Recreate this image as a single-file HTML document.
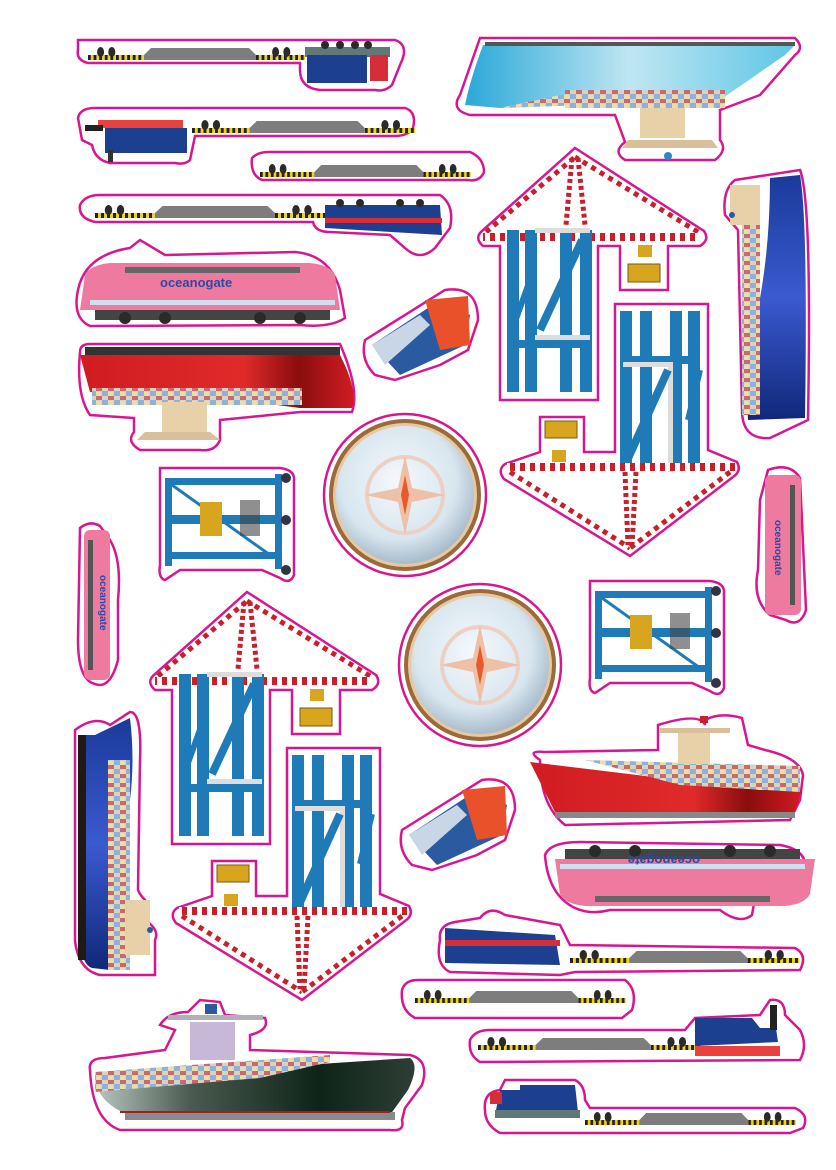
<!DOCTYPE html>
<html><head><meta charset="utf-8"><style>
html,body{margin:0;padding:0;background:#fff;width:836px;height:1170px;overflow:hidden}
svg{display:block}
.o{fill:#fff;stroke:#d8168f;stroke-width:2.5}
.deck{fill:#7d7d7d}
.base{fill:#f2d21b}
.wh{fill:#2a2a2a}
.leg{fill:#1f7bb8}
.t{font-family:"Liberation Sans",sans-serif;font-weight:bold;fill:#2b4aa0}
</style></head><body>
<svg width="836" height="1170" viewBox="0 0 836 1170" xmlns="http://www.w3.org/2000/svg">
<defs>
<pattern id="st" width="10" height="10" patternUnits="userSpaceOnUse"><rect width="10" height="10" fill="#fff"/><rect width="5" height="10" fill="#c8202a"/></pattern>
<pattern id="yb" width="8" height="4" patternUnits="userSpaceOnUse"><rect width="8" height="4" fill="#f2d21b"/><rect width="4" height="4" fill="#222"/></pattern>
<pattern id="ct" width="12" height="9" patternUnits="userSpaceOnUse"><rect width="12" height="9" fill="#d9d2c4"/><rect width="6" height="4" fill="#c86a6a"/><rect x="6" y="4" width="6" height="5" fill="#8fb0d8"/><rect x="0" y="5" width="5" height="4" fill="#e8e0a8"/></pattern>
<linearGradient id="cy" x1="0" y1="0" x2="1" y2="0"><stop offset="0" stop-color="#2aa8d8"/><stop offset=".5" stop-color="#bfe6f2"/><stop offset="1" stop-color="#5ec6e6"/></linearGradient>
<linearGradient id="rd" x1="0" y1="0" x2="1" y2="0"><stop offset="0" stop-color="#d01c22"/><stop offset=".6" stop-color="#e02a2a"/><stop offset=".8" stop-color="#8a0d0d"/><stop offset="1" stop-color="#d01c22"/></linearGradient>
<linearGradient id="bl" x1="0" y1="0" x2="0" y2="1"><stop offset="0" stop-color="#1a3a9a"/><stop offset=".5" stop-color="#3a5ad0"/><stop offset="1" stop-color="#10287a"/></linearGradient>
<linearGradient id="gr" x1="0" y1="0" x2="1" y2="0"><stop offset="0" stop-color="#b8c8c0"/><stop offset=".3" stop-color="#4a5a50"/><stop offset=".7" stop-color="#0e2418"/><stop offset="1" stop-color="#2e3e36"/></linearGradient>
<radialGradient id="cp" cx=".45" cy=".4" r=".6"><stop offset="0" stop-color="#f4f8fb"/><stop offset=".7" stop-color="#d8e6ef"/><stop offset="1" stop-color="#a8bccc"/></radialGradient>
<g id="crane">
 <path class="o" d="M575,148 L704,231 Q710,240 700,246 L668,246 L668,290 L620,290 L620,246 L598,246 L598,400 L500,400 L500,246 L483,246 Q474,238 482,231 Z"/>
 <path class="o" d="M615,304 L708,304 L708,450 L737,462 Q742,471 733,477 L630,556 L504,479 Q497,470 505,464 L540,452 L540,417 L584,417 L584,452 L615,452 Z"/>
 <line x1="486" y1="232" x2="575" y2="157" stroke="#fff" stroke-width="5"/><line x1="486" y1="232" x2="575" y2="157" stroke="#c8202a" stroke-width="5" stroke-dasharray="5 5"/>
 <line x1="698" y1="232" x2="575" y2="157" stroke="#fff" stroke-width="5"/><line x1="698" y1="232" x2="575" y2="157" stroke="#c8202a" stroke-width="5" stroke-dasharray="5 5"/>
 <path d="M572,158 L566,225 M578,158 L585,225" stroke="#c8202a" stroke-width="5" stroke-dasharray="4 3"/>
 <rect x="483" y="233" width="217" height="8" fill="url(#st)"/>
 <rect x="507" y="230" width="12" height="162" class="leg"/><rect x="525" y="230" width="12" height="162" class="leg"/>
 <rect x="560" y="230" width="12" height="162" class="leg"/><rect x="580" y="230" width="12" height="162" class="leg"/>
 <rect x="535" y="228" width="55" height="5" fill="#ddd"/><rect x="535" y="335" width="55" height="5" fill="#ddd"/>
 <rect x="507" y="340" width="85" height="8" class="leg"/>
 <line x1="540" y1="330" x2="582" y2="240" stroke="#1f7bb8" stroke-width="8"/><line x1="512" y1="330" x2="530" y2="280" stroke="#1f7bb8" stroke-width="6"/>
 <rect x="628" y="264" width="32" height="18" fill="#d7a51e" stroke="#7a5a10"/><rect x="638" y="245" width="14" height="12" fill="#d7a51e"/>
 <rect x="620" y="311" width="12" height="160" class="leg"/><rect x="640" y="311" width="12" height="160" class="leg"/>
 <rect x="670" y="311" width="12" height="160" class="leg"/><rect x="688" y="311" width="12" height="160" class="leg"/>
 <rect x="620" y="356" width="80" height="8" class="leg"/><rect x="623" y="362" width="50" height="5" fill="#ddd"/><rect x="668" y="362" width="5" height="110" fill="#ddd"/>
 <line x1="625" y1="465" x2="668" y2="370" stroke="#1f7bb8" stroke-width="8"/><line x1="688" y1="420" x2="700" y2="370" stroke="#1f7bb8" stroke-width="6"/>
 <rect x="507" y="463" width="228" height="8" fill="url(#st)"/>
 <line x1="510" y1="472" x2="630" y2="548" stroke="#fff" stroke-width="5"/><line x1="510" y1="472" x2="630" y2="548" stroke="#c8202a" stroke-width="5" stroke-dasharray="5 5"/>
 <line x1="730" y1="472" x2="630" y2="548" stroke="#fff" stroke-width="5"/><line x1="730" y1="472" x2="630" y2="548" stroke="#c8202a" stroke-width="5" stroke-dasharray="5 5"/>
 <path d="M625,472 L628,545 M636,472 L632,545" stroke="#c8202a" stroke-width="5" stroke-dasharray="4 3"/>
 <rect x="545" y="421" width="32" height="17" fill="#d7a51e" stroke="#7a5a10"/><rect x="552" y="450" width="14" height="12" fill="#d7a51e"/>
</g>
<g id="gantry">
 <path class="o" d="M160,468 L280,468 Q295,470 294,480 L294,575 Q290,585 280,578 L262,570 L180,570 L165,580 Q158,578 160,565 Z"/>
 <rect x="165" y="478" width="7" height="88" class="leg"/><rect x="275" y="474" width="7" height="95" class="leg"/>
 <rect x="165" y="478" width="117" height="7" class="leg"/><rect x="165" y="515" width="117" height="9" class="leg"/><rect x="165" y="552" width="117" height="7" class="leg"/>
 <line x1="172" y1="485" x2="270" y2="555" stroke="#1f7bb8" stroke-width="3"/>
 <rect x="200" y="502" width="22" height="34" fill="#d7a51e"/><rect x="240" y="500" width="20" height="36" fill="#444" opacity=".6"/>
 <circle cx="286" cy="478" r="5" fill="#334"/><circle cx="286" cy="520" r="5" fill="#334"/><circle cx="286" cy="570" r="5" fill="#334"/>
</g>
<g id="comp">
 <circle cx="405" cy="495" r="81" class="o"/>
 <circle cx="405" cy="495" r="76" fill="#9a6a3a"/>
 <circle cx="405" cy="495" r="72" fill="#e8c8a0"/>
 <circle cx="405" cy="495" r="69" fill="url(#cp)"/>
 <circle cx="405" cy="495" r="38" fill="none" stroke="#ecd0c4" stroke-width="4"/>
 <polygon points="405,455 412,488 445,495 412,502 405,535 398,502 365,495 398,488" fill="#efc0a8"/>
 <polygon points="405,475 409,495 405,515 401,495" fill="#e85a2a"/>
</g>
<g id="flat">
 <rect x="0" y="0" width="80" height="5" fill="url(#yb)"/><polygon points="80,0 90,-7 230,-7 240,0 240,5 80,5" class="deck"/>
 <rect x="240" y="0" width="70" height="5" fill="url(#yb)"/>
 <circle cx="18" cy="-3" r="5" class="wh"/><circle cx="34" cy="-3" r="5" class="wh"/><circle cx="268" cy="-3" r="5" class="wh"/><circle cx="284" cy="-3" r="5" class="wh"/>
</g>
<g id="ploco">
 <path d="M0,10 Q5,0 25,-2 L225,-2 Q245,0 250,10 L255,45 L-5,45 Z" fill="#ef7aa0"/>
 <rect x="40" y="2" width="175" height="6" fill="#666"/>
 <rect x="5" y="35" width="245" height="5" fill="#cfdff0"/>
 <rect x="10" y="45" width="235" height="10" fill="#444"/>
 <circle cx="40" cy="53" r="6" class="wh"/><circle cx="80" cy="53" r="6" class="wh"/><circle cx="175" cy="53" r="6" class="wh"/><circle cx="215" cy="53" r="6" class="wh"/>
</g>
<g id="strain">
 <path class="o" d="M365,340 L445,290 Q478,285 478,320 L468,350 L440,365 L395,380 L375,375 Q360,360 365,340 Z"/>
 <polygon points="372,345 440,300 470,315 465,345 400,375" fill="#2a5aa0"/>
 <polygon points="372,345 420,315 430,325 385,365" fill="#c9d6e6"/>
 <polygon points="425,300 468,296 470,345 440,350" fill="#e8512a"/>
</g>
</defs>

<path class="o" d="M78,40 L395,40 Q410,45 400,65 L392,85 Q385,92 375,90 L320,90 Q300,88 300,70 L300,63 L88,63 Q76,60 78,50 Z"/>
<use href="#flat" transform="translate(88,55) scale(0.7,1)"/>
<rect x="305" y="47" width="85" height="10" fill="#607878"/>
<rect x="307" y="55" width="60" height="28" fill="#1d3f8f"/><rect x="370" y="55" width="18" height="26" fill="#d62d3a"/>
<circle cx="325" cy="45" r="4" class="wh"/><circle cx="340" cy="45" r="4" class="wh"/><circle cx="355" cy="45" r="4" class="wh"/><circle cx="368" cy="45" r="4" class="wh"/>

<path class="o" d="M480,38 L795,38 Q805,48 795,55 L760,95 L720,110 L720,140 Q728,150 715,160 L625,160 Q612,152 625,142 L615,115 L470,115 Q450,110 460,95 Z"/>
<path d="M483,45 L795,45 L785,55 L720,100 L500,108 L465,105 Q470,80 483,45 Z" fill="url(#cy)"/>
<rect x="485" y="42" width="310" height="4" fill="#555"/>
<path d="M500,108 L720,100 L720,92 L560,95 Z" fill="url(#ct)"/>
<rect x="565" y="90" width="160" height="18" fill="url(#ct)"/>
<rect x="640" y="108" width="45" height="30" fill="#e8d0a8"/>
<path d="M622,148 L718,148 L712,140 L628,140 Z" fill="#d9c09a"/><circle cx="668" cy="156" r="4" fill="#2a8ac0"/>

<path class="o" d="M78,118 Q80,108 95,108 L405,108 Q417,112 413,128 Q408,136 395,136 L195,136 L190,160 Q185,165 175,163 L110,163 Q95,160 92,145 L82,140 Z"/>
<use href="#flat" transform="translate(192,128) scale(0.72,1)"/>
<rect x="98" y="120" width="85" height="8" fill="#e8413e"/><rect x="105" y="128" width="82" height="25" fill="#1d3f8f"/>
<rect x="85" y="125" width="18" height="6" fill="#222"/><rect x="108" y="150" width="5" height="12" fill="#333"/>

<path class="o" d="M252,158 Q258,152 268,152 L470,152 Q484,158 484,172 Q480,182 468,180 L262,180 Q250,175 252,158 Z"/>
<use href="#flat" transform="translate(260,172) scale(0.68,1)"/>

<path class="o" d="M80,205 Q85,195 100,195 L440,195 Q455,205 450,228 L435,248 Q420,262 405,248 L390,235 L330,232 Q315,232 313,222 L95,222 Q78,218 80,205 Z"/>
<use href="#flat" transform="translate(95,213) scale(0.75,1)"/>
<path d="M325,205 L440,205 L442,235 L325,228 Z" fill="#1d3f8f"/><rect x="325" y="218" width="117" height="5" fill="#d62d3a"/>
<circle cx="340" cy="203" r="4" class="wh"/><circle cx="360" cy="203" r="4" class="wh"/><circle cx="400" cy="203" r="4" class="wh"/><circle cx="420" cy="203" r="4" class="wh"/>

<path class="o" d="M78,290 Q85,255 130,248 L140,240 L165,255 L295,252 Q330,255 340,290 L345,318 Q330,328 300,325 L90,326 Q72,318 78,290 Z"/>
<use href="#ploco" transform="translate(85,265)"/>
<text x="160" y="287" class="t" font-size="13">oceanogate</text>

<use href="#strain"/>

<path class="o" d="M80,352 Q80,344 90,344 L340,344 Q360,390 352,412 L300,412 L220,420 L220,440 Q215,452 200,450 L140,450 Q126,442 134,432 L134,418 L90,415 Q76,395 80,352 Z"/>
<rect x="85" y="347" width="255" height="8" fill="#333"/>
<path d="M80,355 L340,355 Q358,390 352,408 L300,408 L200,395 L90,392 Z" fill="url(#rd)"/>
<rect x="92" y="388" width="210" height="17" fill="url(#ct)"/>
<rect x="162" y="402" width="45" height="30" fill="#e8d0a8"/><path d="M137,440 L220,440 L210,432 L145,432 Z" fill="#d9c09a"/>

<use href="#crane"/>

<path class="o" d="M735,180 L800,170 Q812,200 808,420 L770,438 Q742,440 742,410 L738,230 L725,215 Q722,190 735,180 Z"/>
<path d="M770,178 L800,175 Q808,220 805,418 L748,420 L745,360 Q770,280 770,178 Z" fill="url(#bl)"/>
<rect x="742" y="225" width="18" height="190" fill="url(#ct)"/>
<rect x="730" y="185" width="30" height="40" fill="#e8d0a8"/><circle cx="732" cy="215" r="3" fill="#2a5aa0"/>

<use href="#comp"/>
<use href="#comp" transform="translate(75,170)"/>
<use href="#gantry"/>
<use href="#gantry" transform="translate(430,113)"/>

<path class="o" d="M80,528 Q90,520 100,526 L110,540 Q122,560 118,600 L118,660 Q110,690 95,684 Q78,680 78,640 Z"/>
<rect x="84" y="530" width="26" height="150" rx="6" fill="#ef7aa0"/><rect x="88" y="540" width="5" height="130" fill="#555"/>
<text transform="translate(100,575) rotate(90)" class="t" font-size="10">oceanogate</text>
<path class="o" d="M768,470 Q790,462 800,478 L806,610 Q800,628 786,620 L770,615 Q752,600 758,570 L760,500 Z"/>
<rect x="765" y="475" width="36" height="140" rx="6" fill="#ef7aa0"/><rect x="790" y="485" width="5" height="120" fill="#555"/>
<text transform="translate(775,520) rotate(90)" class="t" font-size="10">oceanogate</text>

<use href="#crane" transform="translate(-328,444)"/>

<path class="o" d="M75,730 Q95,715 110,725 L130,712 Q142,712 140,760 L138,890 Q140,895 145,900 L145,920 Q160,930 155,940 L155,975 L100,975 Q78,970 75,940 Z"/>
<path d="M80,735 L95,735 L130,718 Q135,760 130,800 L112,900 L110,970 L92,968 Q82,965 80,940 Z" fill="url(#bl)"/>
<rect x="78" y="735" width="8" height="225" fill="#1e1a16"/>
<rect x="108" y="760" width="22" height="210" fill="url(#ct)"/>
<rect x="125" y="900" width="25" height="55" fill="#e8d0a8"/><circle cx="150" cy="930" r="3" fill="#2a5aa0"/>

<path class="o" d="M540,760 Q525,750 545,752 L658,750 L658,725 Q700,712 705,725 L705,720 Q720,712 742,718 L748,745 L765,750 Q800,758 803,775 L800,800 L790,820 L565,825 Q540,805 540,760 Z"/>
<path d="M530,762 L760,790 L802,790 L795,812 L555,812 Z" fill="url(#rd)"/>
<path d="M585,760 L800,766 L800,792 L680,785 Z" fill="url(#ct)"/>
<rect x="678" y="730" width="32" height="34" fill="#e8d0a8"/><rect x="660" y="728" width="70" height="5" fill="#d9c09a"/><rect x="700" y="716" width="8" height="7" fill="#c8202a"/>
<rect x="555" y="812" width="240" height="6" fill="#888"/>

<use href="#strain" transform="translate(37,490)"/>

<path class="o" d="M545,855 Q550,842 580,842 L780,845 Q808,850 805,870 L790,890 L755,898 L752,915 Q740,925 720,910 L610,910 Q590,915 575,908 Q548,895 545,855 Z"/>
<use href="#ploco" transform="translate(810,904) rotate(180)"/>
<text x="630" y="868" class="t" font-size="13" transform="rotate(180,665,862)">oceanogate</text>

<path class="o" d="M440,940 Q438,925 455,922 L480,918 Q490,905 505,915 L560,925 L570,945 L795,948 Q808,955 800,970 L575,972 L560,975 L450,972 Q435,965 440,940 Z"/>
<path d="M445,928 L555,935 L560,965 L445,963 Z" fill="#1d3f8f"/><rect x="445" y="940" width="115" height="6" fill="#d62d3a"/>
<use href="#flat" transform="translate(570,958) scale(0.74,1)"/>

<path class="o" d="M402,990 Q405,980 418,980 L625,980 Q638,990 632,1010 L622,1018 L415,1018 Q400,1010 402,990 Z"/>
<use href="#flat" transform="translate(415,998) scale(0.68,1)"/>

<path class="o" d="M470,1040 Q475,1030 490,1030 L685,1030 L695,1018 L760,1015 L770,1000 Q785,998 785,1015 L800,1030 Q808,1045 800,1060 L480,1062 Q468,1055 470,1040 Z"/>
<use href="#flat" transform="translate(478,1045) scale(0.72,1)"/>
<path d="M695,1018 L752,1018 L760,1028 L776,1028 L778,1042 L695,1046 Z" fill="#1d3f8f"/>
<rect x="695" y="1046" width="85" height="10" fill="#e8413e"/><rect x="770" y="1005" width="7" height="25" fill="#222"/>

<path class="o" d="M90,1070 Q88,1058 105,1058 L165,1050 L175,1030 L160,1025 Q168,1012 188,1012 L200,1000 L220,1002 L225,1015 L265,1018 Q270,1030 250,1035 L250,1050 L410,1055 Q430,1060 422,1085 L405,1108 L402,1120 Q405,1132 390,1130 L120,1130 Q92,1120 90,1070 Z"/>
<path d="M95,1080 L230,1070 L410,1058 Q420,1065 408,1090 L390,1115 L130,1115 Q100,1105 95,1080 Z" fill="url(#gr)"/>
<path d="M95,1072 L330,1055 L330,1062 L260,1078 L95,1092 Z" fill="url(#ct)"/>
<rect x="190" y="1022" width="45" height="38" fill="#c8b8d8"/><rect x="168" y="1015" width="95" height="5" fill="#b0b0b8"/><rect x="205" y="1004" width="12" height="10" fill="#2a5aa0"/>
<rect x="125" y="1112" width="270" height="8" fill="#8a8a8a"/><rect x="120" y="1111" width="270" height="2" fill="#a02020"/>

<path class="o" d="M485,1110 Q483,1092 500,1090 L505,1080 L575,1080 Q585,1085 585,1100 L590,1108 L795,1108 Q810,1115 803,1128 L790,1133 L500,1133 Q485,1125 485,1110 Z"/>
<path d="M500,1090 L520,1090 L520,1085 L575,1085 L578,1112 L495,1115 Z" fill="#1d3f8f"/><rect x="495" y="1110" width="85" height="8" fill="#607878"/>
<rect x="490" y="1092" width="12" height="12" fill="#d62d3a"/>
<use href="#flat" transform="translate(585,1120) scale(0.68,1)"/>
</svg>
</body></html>
